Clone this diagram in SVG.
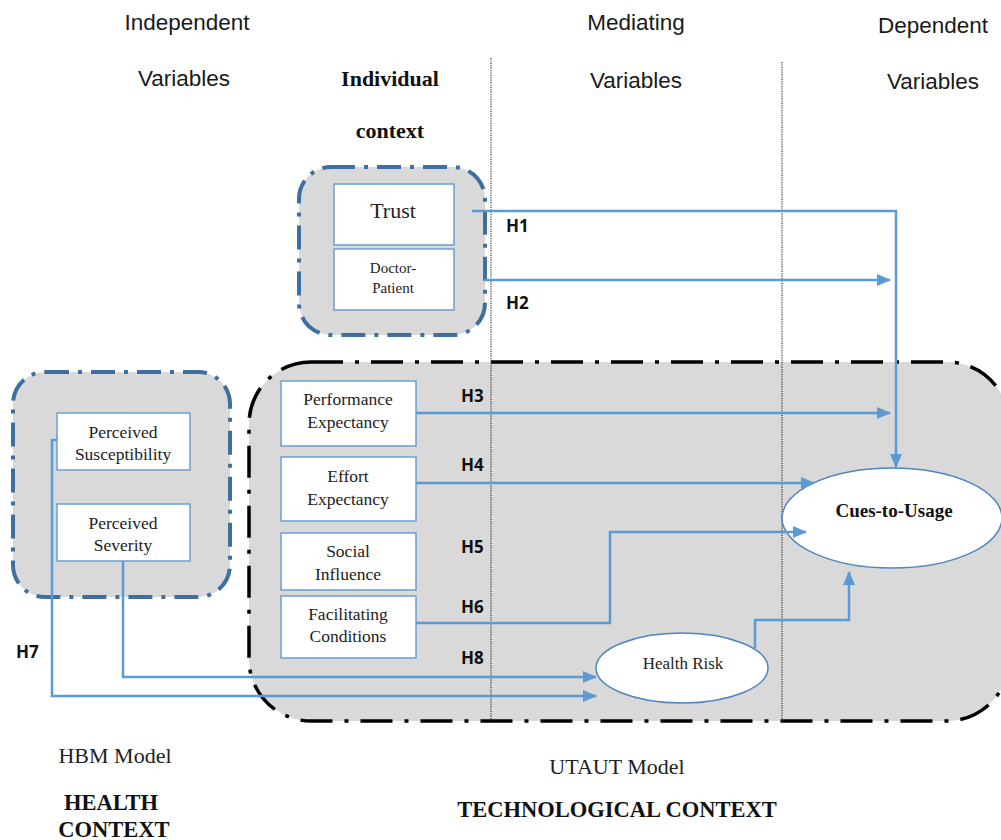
<svg xmlns="http://www.w3.org/2000/svg" width="1001" height="840" viewBox="0 0 1001 840">
  <style>
    .hdr { font-family: "Liberation Sans", Arial, sans-serif; font-size: 22.5px; fill: #1a1a1a; text-anchor: middle; }
    .hdrb { font-family: "Liberation Serif", "Times New Roman", serif; font-size: 22px; font-weight: bold; fill: #111; text-anchor: middle; }
    .lbl { font-family: "Liberation Serif", "Times New Roman", serif; font-size: 17.5px; fill: #222; text-anchor: middle; }
    .hyp { font-family: "Open Sans", "Liberation Sans", sans-serif; font-size: 17px; font-weight: bold; fill: #111; }
    .ctx { font-family: "Liberation Serif", "Times New Roman", serif; font-size: 22px; fill: #222; text-anchor: middle; }
    .ctxb { font-family: "Liberation Serif", "Times New Roman", serif; font-size: 22.5px; font-weight: bold; fill: #111; text-anchor: middle; }
    .box { fill: #ffffff; stroke: #6a9fd3; stroke-width: 1.5; }
    .grpblue { fill: #d9d9d9; stroke: #3d6fa3; stroke-width: 4; stroke-dasharray: 24 9 4 9; }
    .grpblack { fill: #d9d9d9; stroke: #000; stroke-width: 3.5; stroke-dasharray: 32 12 4 12; }
    .divider { stroke: #333; stroke-width: 1.2; stroke-dasharray: 1.2 1.2; fill: none; }
    .link { fill: none; stroke: #5b9bd5; stroke-width: 2.5; }
    .ell { fill: #ffffff; stroke: #4f86bf; stroke-width: 1.5; }
  </style>
  <defs>
    <marker id="arrow" markerUnits="userSpaceOnUse" markerWidth="14" markerHeight="12" refX="13" refY="6" orient="auto">
      <path d="M0,0 L14,6 L0,12 Z" fill="#5b9bd5"/>
    </marker>
  </defs>

  <rect width="1001" height="840" fill="#ffffff"/>

  <!-- column headings -->
  <g id="headings">
    <text class="hdr" x="187" y="30">Independent</text>
    <text class="hdr" x="184" y="86">Variables</text>
    <text class="hdrb" x="390" y="86">Individual</text>
    <text class="hdrb" x="390" y="138">context</text>
    <text class="hdr" x="636" y="30">Mediating</text>
    <text class="hdr" x="636" y="88">Variables</text>
    <text class="hdr" x="933" y="33">Dependent</text>
    <text class="hdr" x="933" y="89">Variables</text>
  </g>

  <!-- technological context container -->
  <g id="utaut-context">
    <rect class="grpblack" x="249" y="362" width="760" height="359" rx="62" ry="62"/>
  </g>

  <!-- column dividers -->
  <g id="dividers">
    <line class="divider" x1="491" y1="58" x2="491" y2="722"/>
    <line class="divider" x1="782" y1="62" x2="782" y2="722"/>
  </g>

  <!-- individual context container -->
  <g id="individual-context">
    <rect class="grpblue" x="299" y="167" width="186" height="168" rx="32" ry="32"/>
  </g>

  <!-- health context container -->
  <g id="hbm-context">
    <rect class="grpblue" x="13" y="372" width="217" height="225" rx="32" ry="32"/>
  </g>

  <g id="trust">
    <rect class="box" x="334" y="184" width="120" height="61"/>
    <text class="lbl" x="393" y="218" style="font-size:22px">Trust</text>
  </g>
  <g id="doctor-patient">
    <rect class="box" x="334" y="249" width="120" height="61"/>
    <text class="lbl" x="393" y="273" style="font-size:15px">Doctor-</text>
    <text class="lbl" x="393" y="293" style="font-size:15px">Patient</text>
  </g>

  <g id="perceived-susceptibility">
    <rect class="box" x="57" y="413" width="133" height="57"/>
    <text class="lbl" x="123" y="438">Perceived</text>
    <text class="lbl" x="123" y="460">Susceptibility</text>
  </g>
  <g id="perceived-severity">
    <rect class="box" x="57" y="504" width="133" height="57"/>
    <text class="lbl" x="123" y="529">Perceived</text>
    <text class="lbl" x="123" y="551">Severity</text>
  </g>

  <g id="performance-expectancy">
    <rect class="box" x="281" y="381" width="135" height="65"/>
    <text class="lbl" x="348" y="405">Performance</text>
    <text class="lbl" x="348" y="428">Expectancy</text>
  </g>
  <g id="effort-expectancy">
    <rect class="box" x="281" y="457" width="135" height="64"/>
    <text class="lbl" x="348" y="482">Effort</text>
    <text class="lbl" x="348" y="505">Expectancy</text>
  </g>
  <g id="social-influence">
    <rect class="box" x="281" y="533" width="135" height="57"/>
    <text class="lbl" x="348" y="557">Social</text>
    <text class="lbl" x="348" y="580">Influence</text>
  </g>
  <g id="facilitating-conditions">
    <rect class="box" x="281" y="596" width="135" height="62"/>
    <text class="lbl" x="348" y="620">Facilitating</text>
    <text class="lbl" x="348" y="642">Conditions</text>
  </g>

  <g id="cues-to-usage">
    <ellipse class="ell" cx="892" cy="518" rx="110" ry="50"/>
    <text class="lbl" x="894" y="517" style="font-size:19px;font-weight:bold;fill:#111">Cues-to-Usage</text>
  </g>

  <g id="health-risk">
    <ellipse class="ell" cx="682" cy="668" rx="86" ry="35"/>
    <text class="lbl" x="683" y="669" style="font-size:17px">Health Risk</text>
  </g>

  <!-- hypothesised paths -->
  <g id="connectors">
    <polyline class="link" points="472,211 896,211 896,467" marker-end="url(#arrow)"/>
    <line class="link" x1="484" y1="280" x2="890" y2="280" marker-end="url(#arrow)"/>
    <line class="link" x1="416" y1="413" x2="890" y2="413" marker-end="url(#arrow)"/>
    <line class="link" x1="416" y1="483" x2="814" y2="483" marker-end="url(#arrow)"/>
    <polyline class="link" points="416,623 610,623 610,532 806,532" marker-end="url(#arrow)"/>
    <polyline class="link" points="755,648 755,620 849,620 849,572" marker-end="url(#arrow)"/>
    <polyline class="link" points="123,561 123,677 596,677" marker-end="url(#arrow)"/>
    <polyline class="link" points="57,440 52,440 52,696 596,696" marker-end="url(#arrow)"/>
  </g>

  <!-- hypothesis labels -->
  <g id="hypotheses">
    <text class="hyp" x="506" y="232">H1</text>
    <text class="hyp" x="506" y="309">H2</text>
    <text class="hyp" x="461" y="402">H3</text>
    <text class="hyp" x="461" y="471">H4</text>
    <text class="hyp" x="461" y="553">H5</text>
    <text class="hyp" x="461" y="613">H6</text>
    <text class="hyp" x="16" y="658">H7</text>
    <text class="hyp" x="461" y="664">H8</text>
  </g>

  <!-- model captions -->
  <g id="captions">
    <text class="ctx" x="115" y="763">HBM Model</text>
    <text class="ctxb" x="111" y="810">HEALTH</text>
    <text class="ctxb" x="114" y="837">CONTEXT</text>
    <text class="ctx" x="617" y="774">UTAUT Model</text>
    <text class="ctxb" x="617" y="817">TECHNOLOGICAL CONTEXT</text>
  </g>
</svg>
